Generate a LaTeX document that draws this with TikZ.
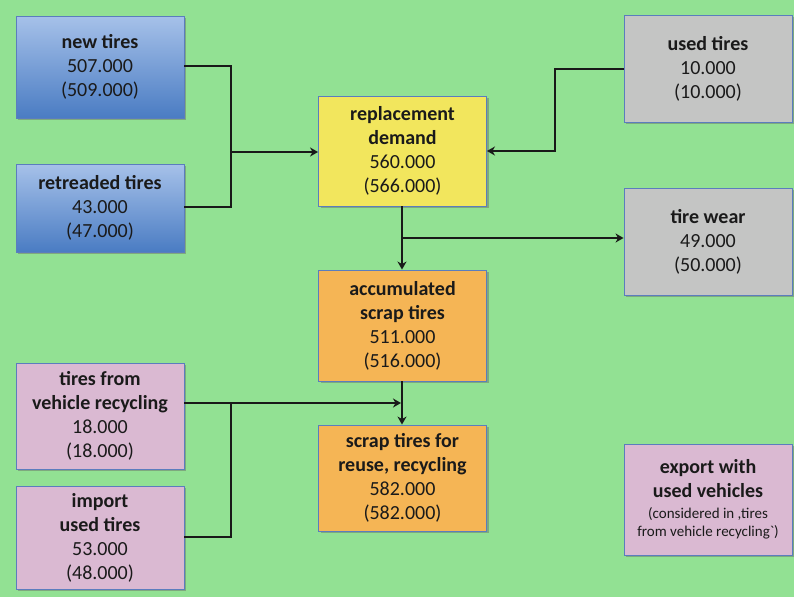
\documentclass[tikz,border=0pt]{standalone}
\usepackage{fontspec}
\setmainfont{Carlito}
\usetikzlibrary{arrows.meta,shadows}
\definecolor{bggreen}{HTML}{92E193}
\definecolor{boxedge}{HTML}{5B7DBE}
\definecolor{bluetop}{HTML}{A6C1E9}
\definecolor{bluebot}{HTML}{4A7CC3}
\definecolor{yellowbox}{HTML}{F2E65D}
\definecolor{orangebox}{HTML}{F5B555}
\definecolor{graybox}{HTML}{C4C5C4}
\definecolor{pinkbox}{HTML}{DAB9D2}
\definecolor{inktext}{HTML}{1A1A1A}
\newcommand{\notefont}{\fontsize{15}{18}\selectfont}
\tikzset{
  flowbox/.style={draw=boxedge, line width=0.9pt, minimum width=168pt,
    align=center, font=\fontsize{20}{24}\selectfont, text=inktext,
    inner sep=2pt,
    drop shadow={shadow xshift=2pt, shadow yshift=-2pt, opacity=0.45, fill=black!60}},
  bluebox/.style={flowbox, top color=bluetop, bottom color=bluebot},
  yellowfill/.style={flowbox, fill=yellowbox},
  orangefill/.style={flowbox, fill=orangebox},
  grayfill/.style={flowbox, fill=graybox},
  pinkfill/.style={flowbox, fill=pinkbox},
  flow/.style={line width=2pt, draw=black!90,
    -{Stealth[length=8pt,width=9pt,inset=2.5pt]}},
  link/.style={line width=2pt, draw=black!90}
}
\begin{document}
\begin{tikzpicture}[x=1pt,y=-1pt]
  % background
  \fill[bggreen] (0,0) rectangle (794,597);
  \useasboundingbox (0,0) rectangle (794,597);

  % boxes
  \node[bluebox, minimum height=102pt] (new) at (100,67)
    {\textbf{new tires}\\507.000\\(509.000)};
  \node[bluebox, minimum height=88pt] (ret) at (100,208)
    {\textbf{retreaded tires}\\43.000\\(47.000)};
  \node[yellowfill, minimum height=110pt] (repl) at (402.5,151)
    {\textbf{replacement}\\\textbf{demand}\\560.000\\(566.000)};
  \node[grayfill, minimum height=107pt] (used) at (708,68.5)
    {\textbf{used tires}\\10.000\\(10.000)};
  \node[grayfill, minimum height=107pt] (wear) at (708,241.5)
    {\textbf{tire wear}\\49.000\\(50.000)};
  \node[orangefill, minimum height=111pt] (accu) at (402.5,325.5)
    {\textbf{accumulated}\\\textbf{scrap tires}\\511.000\\(516.000)};
  \node[pinkfill, minimum height=106pt] (veh) at (100,416)
    {\textbf{tires from}\\\textbf{vehicle recycling}\\18.000\\(18.000)};
  \node[pinkfill, minimum height=103pt] (imp) at (100,537.5)
    {\textbf{import}\\\textbf{used tires}\\53.000\\(48.000)};
  \node[orangefill, minimum height=106pt] (scrap) at (402.5,478)
    {\textbf{scrap tires for}\\\textbf{reuse, recycling}\\582.000\\(582.000)};
  \node[pinkfill, minimum height=111pt] (exp) at (708,499.5)
    {\textbf{export with}\\\textbf{used vehicles}\\[-3pt]
     {\notefont (considered in ,tires}\\[-6pt]
     {\notefont from vehicle recycling\textasciigrave)}};

  % junction points
  \coordinate (jl) at (231,152);
  \coordinate (jr) at (555,151);
  \coordinate (jw) at (402,238);
  \coordinate (jv) at (231,403);
  \coordinate (jd) at (401,403);

  % connectors
  \draw[link] (new.east |- 0,66) -| (jl);
  \draw[link] (ret.east |- 0,207) -| (jl);
  \draw[flow] (jl) -- (repl.west |- jl);
  \draw[flow] (used.west |- 0,69) -| (jr) -- (repl.east |- jr);
  \draw[flow] (repl.south -| jw) -- (accu.north -| jw);
  \draw[flow] (jw) -- (wear.west |- jw);
  \draw[flow] (accu.south -| jw) -- (scrap.north -| jw);
  \draw[link] (imp.east |- 0,537) -| (jv);
  \draw[flow] (veh.east |- jv) -- (jd);
\end{tikzpicture}
\end{document}
